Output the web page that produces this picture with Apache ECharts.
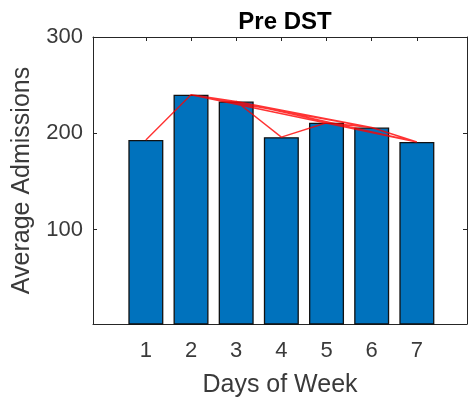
<!DOCTYPE html>
<html>
<head>
<meta charset="utf-8">
<script src="https://cdn.jsdelivr.net/npm/echarts@6/dist/echarts.min.js"></script>
<style>
html,body{margin:0;padding:0;background:#fff;}
#c{width:468px;height:409px;}
</style>
</head>
<body>
<div id="c"></div>
<script>
var days = [1, 2, 3, 4, 5, 6, 7];
var admissions = [193, 240, 233, 196, 211, 206, 191];
var yTicks = [100, 200, 300];
var redPathDays = [1, 2, 3, 4, 5, 6, 7, 3, 6, 2, 7];

var titleText = 'Pre DST';
var xName = 'Days of Week';
var yName = 'Average Admissions';

var barData = days.map(function (d, i) { return [d, admissions[i]]; });
var redData = redPathDays.map(function (d) { return [d, admissions[days.indexOf(d)]]; });

var FONT = '"Liberation Sans", Arial, Helvetica, sans-serif';
var AX = '#262626';
var TXT = '#3a3a3a';

var chart = echarts.init(document.getElementById('c'), null, {renderer: 'canvas'});
chart.setOption({
  animation: false,
  backgroundColor: '#ffffff',
  title: {
    text: titleText,
    left: 280, top: 5, textAlign: 'center',
    textStyle: {fontFamily: FONT, fontSize: 24, fontWeight: 'bold', color: '#000'}
  },
  grid: {left: 93, top: 37, right: 1, bottom: 85, containLabel: false},
  xAxis: [{
    type: 'value', min: -0.17, max: 8.11,
    name: xName, nameLocation: 'middle', nameGap: 49,
    nameTextStyle: {fontFamily: FONT, fontSize: 25, color: TXT},
    axisLine: {show: true, onZero: false, lineStyle: {color: AX, width: 1}},
    axisTick: {show: true, inside: true, length: 4, customValues: days, lineStyle: {color: AX}},
    axisLabel: {customValues: days, fontFamily: FONT, fontSize: 22, color: TXT, margin: 16},
    splitLine: {show: false}
  }, {
    type: 'value', min: -0.17, max: 8.11, position: 'top',
    axisLine: {show: true, onZero: false, lineStyle: {color: AX, width: 1}},
    axisTick: {show: true, inside: true, length: 4, customValues: days, lineStyle: {color: AX}},
    axisLabel: {show: false},
    splitLine: {show: false}
  }],
  yAxis: [{
    type: 'value', min: 2, max: 300,
    name: yName, nameLocation: 'middle', nameGap: 58, nameRotate: 90,
    nameTextStyle: {fontFamily: FONT, fontSize: 25, color: TXT},
    axisLine: {show: true, onZero: false, lineStyle: {color: AX, width: 1}},
    axisTick: {show: true, inside: true, length: 4, customValues: yTicks, lineStyle: {color: AX}},
    axisLabel: {customValues: yTicks, fontFamily: FONT, fontSize: 22, color: TXT, margin: 10},
    splitLine: {show: false}
  }, {
    type: 'value', min: 2, max: 300, position: 'right',
    axisLine: {show: true, onZero: false, lineStyle: {color: AX, width: 1}},
    axisTick: {show: true, inside: true, length: 4, customValues: yTicks, lineStyle: {color: AX}},
    axisLabel: {show: false},
    splitLine: {show: false}
  }],
  series: [{
    type: 'bar',
    xAxisIndex: 0, yAxisIndex: 0,
    data: barData,
    barWidth: 35,
    itemStyle: {color: '#0072BD', borderColor: '#111', borderWidth: 1.3},
    z: 2
  }, {
    type: 'line',
    xAxisIndex: 0, yAxisIndex: 0,
    data: redData,
    showSymbol: false, symbol: 'none',
    lineStyle: {color: 'rgba(255,0,0,0.8)', width: 1.4},
    z: 3
  }]
});
</script>
</body>
</html>
